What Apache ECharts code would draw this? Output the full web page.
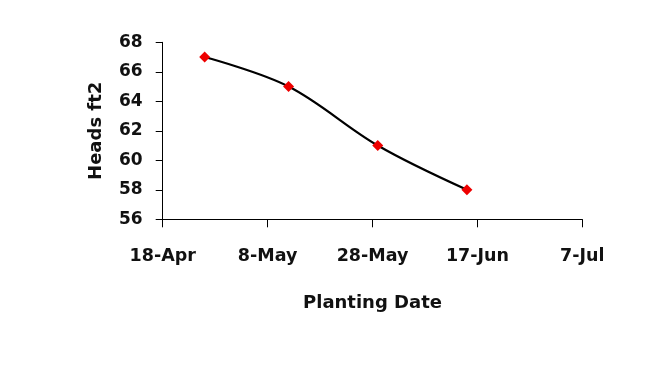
<!DOCTYPE html>
<html>
<head>
<meta charset="utf-8">
<script src="https://cdn.jsdelivr.net/npm/echarts@6/dist/echarts.min.js"></script>
<style>
html,body{margin:0;padding:0;background:#fff;}
#c{width:651px;height:384px;}
</style>
</head>
<body>
<div id="c"></div>
<script>
// Data
const plantingDates = ['2003-04-26', '2003-05-12', '2003-05-29', '2003-06-15'];
const headsPerFt2 = [67, 65, 61, 58];
const axisStartDate = '2003-04-18';
const xTickDays = 20;
const xSpanDays = 80;
const yMin = 56, yMax = 68, yStep = 2;
const monthNames = ['Jan','Feb','Mar','Apr','May','Jun','Jul','Aug','Sep','Oct','Nov','Dec'];

const DAY = 86400000;
const t0 = Date.parse(axisStartDate + 'T00:00:00Z');
const dayOffset = s => Math.round((Date.parse(s + 'T00:00:00Z') - t0) / DAY);
const fmtDay = v => { const d = new Date(t0 + v * DAY); return d.getUTCDate() + '-' + monthNames[d.getUTCMonth()]; };

const seriesData = plantingDates.map((d, i) => [dayOffset(d), headsPerFt2[i]]);

const font = 'DejaVu Sans';
const chart = echarts.init(document.getElementById('c'), null, {renderer: 'canvas'});
chart.setOption({
  animation: false,
  backgroundColor: '#ffffff',
  grid: {left: 162.7, right: 68.7, top: 42.3, bottom: 164.7, containLabel: false},
  xAxis: {
    type: 'value', min: 0, max: xSpanDays, interval: xTickDays,
    name: 'Planting Date', nameLocation: 'middle', nameGap: 75,
    nameTextStyle: {fontFamily: font, fontWeight: 'bold', fontSize: 18, color: '#111'},
    axisLine: {show: true, lineStyle: {color: '#000', width: 1}},
    axisTick: {show: true, inside: false, length: 8, lineStyle: {color: '#000'}},
    axisLabel: {formatter: fmtDay, fontFamily: font, fontWeight: 'bold', fontSize: 17.5, color: '#111', margin: 28},
    splitLine: {show: false}
  },
  yAxis: {
    type: 'value', min: yMin, max: yMax, interval: yStep,
    name: 'Heads ft2', nameLocation: 'middle', nameGap: 57, nameRotate: 90,
    nameTextStyle: {fontFamily: font, fontWeight: 'bold', fontSize: 18, color: '#111'},
    axisLine: {show: true, lineStyle: {color: '#000', width: 1}},
    axisTick: {show: true, inside: false, length: 7, lineStyle: {color: '#000'}},
    axisLabel: {fontFamily: font, fontWeight: 'bold', fontSize: 17, color: '#111', margin: 20},
    splitLine: {show: false}
  },
  series: [{
    type: 'line',
    data: seriesData,
    smooth: 0.35,
    lineStyle: {color: '#000', width: 2.2},
    symbol: 'diamond',
    symbolSize: 11,
    itemStyle: {color: '#ee0000', borderWidth: 0},
    z: 3
  }]
});
</script>
</body>
</html>
